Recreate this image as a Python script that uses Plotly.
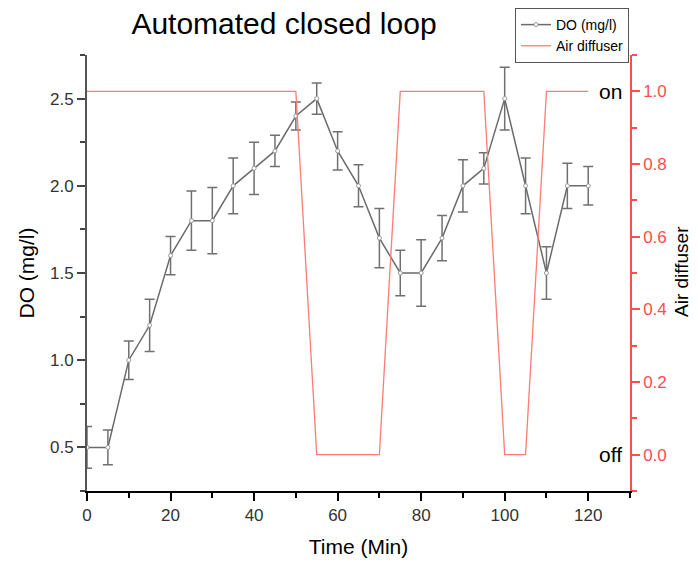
import plotly.graph_objects as go

# ---- data ----
time_min = [0, 5, 10, 15, 20, 25, 30, 35, 40, 45, 50, 55, 60,
            65, 70, 75, 80, 85, 90, 95, 100, 105, 110, 115, 120]
do_mgl = [0.5, 0.5, 1.0, 1.2, 1.6, 1.8, 1.8, 2.0, 2.1, 2.2, 2.4, 2.5, 2.2,
          2.0, 1.7, 1.5, 1.5, 1.7, 2.0, 2.1, 2.5, 2.0, 1.5, 2.0, 2.0]
do_err = [0.12, 0.10, 0.11, 0.15, 0.11, 0.17, 0.19, 0.16, 0.15, 0.09, 0.08, 0.09, 0.11,
          0.12, 0.17, 0.13, 0.19, 0.13, 0.15, 0.09, 0.18, 0.16, 0.15, 0.13, 0.11]

air_time = [0, 50, 55, 70, 75, 95, 100, 105, 110, 120]
air_state = [1, 1, 0, 0, 1, 1, 0, 0, 1, 1]

FONT = "Liberation Sans, Arial, sans-serif"
GRAY = "#6b6b6b"
RED = "#ff4d4d"

# page body has an 8px margin, so the figure is laid out in a 690x554 box
W, H = 690, 554
OFF = 8

fig = go.Figure()

fig.add_trace(go.Scatter(
    x=air_time, y=air_state, mode="lines", name="Air diffuser",
    line=dict(color="#ff7b73", width=1.3),
    yaxis="y2", legendrank=2,
))

fig.add_trace(go.Scatter(
    x=time_min, y=do_mgl, mode="lines+markers", name="DO (mg/l)",
    line=dict(color=GRAY, width=1.5),
    marker=dict(symbol="circle", size=4, color="white",
                line=dict(color="#9a9a9a", width=1)),
    error_y=dict(type="data", array=do_err, visible=True,
                 color="#707070", thickness=1.5, width=5),
    legendrank=1,
))

L, R, T, B = 87 - OFF, 630 - OFF, 55 - OFF, 491 - OFF
PW, PH = R - L, B - T

fig.update_layout(
    width=W, height=H,
    margin=dict(l=L, r=W - R, t=T, b=H - B, autoexpand=False),
    paper_bgcolor="white", plot_bgcolor="white",
    font=dict(family=FONT, color="#222"),
    title=dict(text="Automated closed loop", x=(284 - OFF) / W, xanchor="center",
               y=1 - (23 - OFF) / H, yanchor="middle", yref="container",
               font=dict(size=30, color="#000", family=FONT)),
    showlegend=True,
    legend=dict(x=(515 - OFF) / W, y=1.0, xref="container", yref="container",
                xanchor="left", yanchor="top",
                bgcolor="white", bordercolor="#555", borderwidth=1,
                font=dict(size=14, color="#000", family=FONT),
                itemwidth=30, tracegroupgap=0, traceorder="normal"),
    xaxis=dict(
        range=[0, 130], dtick=20, tick0=0, showgrid=False, zeroline=False,
        automargin=False,
        ticks="outside", ticklen=8, tickwidth=1.5, tickcolor="#000",
        minor=dict(dtick=10, ticks="outside", ticklen=5, tickwidth=1.5, tickcolor="#000"),
        showline=True, linecolor="#000", linewidth=1.5,
        tickfont=dict(size=17, color="#333"),
        title=dict(text="Time (Min)", font=dict(size=21, color="#000"), standoff=15),
    ),
    xaxis2=dict(
        range=[0, 130], overlaying="x", side="top", anchor="y",
        dtick=10, tick0=0, showgrid=False, zeroline=False, automargin=False,
        ticks="inside", ticklen=5, tickwidth=1.5, tickcolor="#000",
        showticklabels=False, showline=True, linecolor="#000", linewidth=1.5,
    ),
    yaxis=dict(
        range=[0.25, 2.75], dtick=0.5, tick0=0.5, tickformat=".1f",
        showgrid=False, zeroline=False, automargin=False,
        ticks="outside", ticklen=8, tickwidth=1.5, tickcolor="#444",
        minor=dict(dtick=0.25, tick0=0.25, ticks="outside", ticklen=5, tickwidth=1.5, tickcolor="#444"),
        showline=True, linecolor="#555", linewidth=2,
        tickfont=dict(size=17, color="#333"),
        title=dict(text="DO (mg/l)", font=dict(size=21, color="#000"), standoff=10),
    ),
    yaxis2=dict(
        range=[-0.1, 1.1], dtick=0.2, tick0=0, tickformat=".1f",
        overlaying="y", side="right", anchor="x",
        showgrid=False, zeroline=False, automargin=False,
        ticks="outside", ticklen=8, tickwidth=1.5, tickcolor=RED,
        minor=dict(dtick=0.1, ticks="outside", ticklen=5, tickwidth=1.5, tickcolor=RED),
        showline=True, linecolor=RED, linewidth=1.5,
        tickfont=dict(size=17, color=RED),
    ),
    annotations=[
        dict(text="Air diffuser", x=(673 - L) / PW, xref="paper",
             y=(B - (272 - OFF)) / PH, yref="paper", textangle=-90,
             xanchor="center", yanchor="middle", showarrow=False,
             font=dict(size=19, color="#000", family=FONT)),
        dict(text="on", x=(624 - 87) / 543, xref="paper", y=1.0, yref="y2",
             xanchor="right", yanchor="middle", showarrow=False,
             font=dict(size=21, color="#000", family=FONT)),
        dict(text="off", x=(624 - 87) / 543, xref="paper", y=0.0, yref="y2",
             xanchor="right", yanchor="middle", showarrow=False,
             font=dict(size=21, color="#000", family=FONT)),
    ],
)

fig.write_html("out.html")
